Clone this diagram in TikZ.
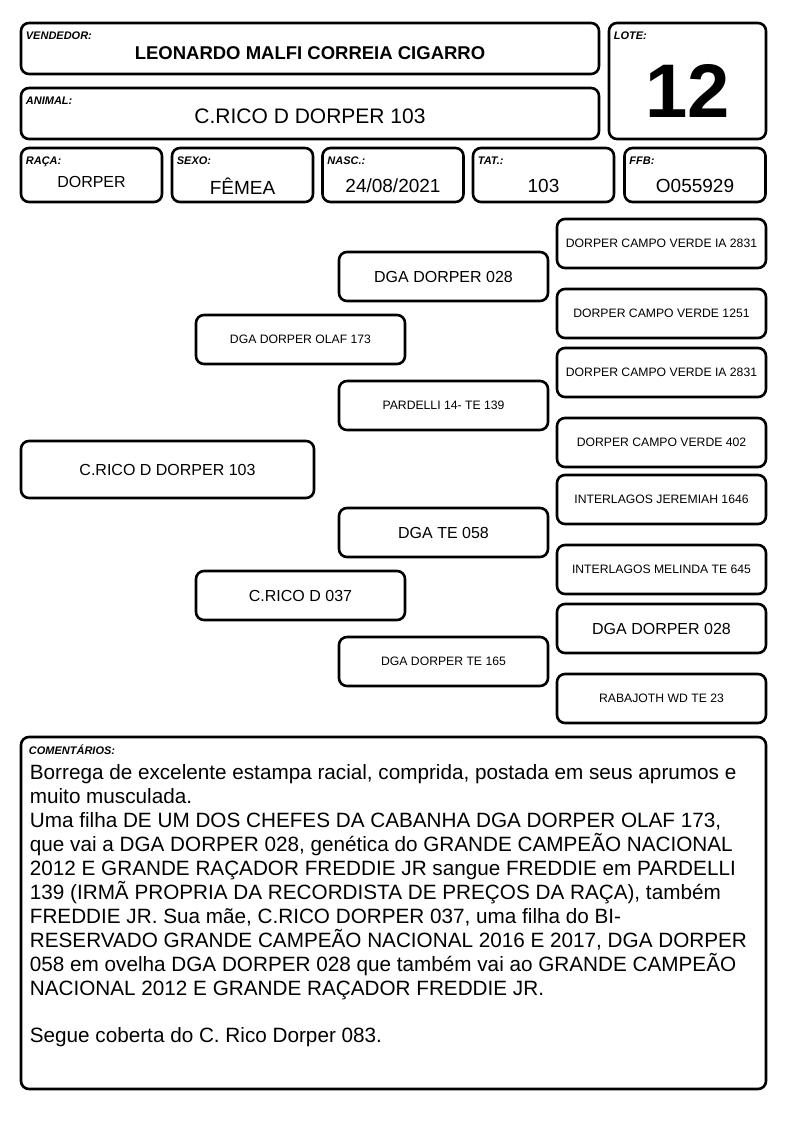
\documentclass[tikz,border=0pt]{standalone}
\usepackage{fontspec}
\setmainfont{Liberation Sans}
\usepackage{tikz}

\begin{document}
\begin{tikzpicture}[
    x=1pt, y=-1pt,
    box/.style={rectangle, rounded corners=8pt, draw=black, line width=2.6pt, inner sep=0pt},
    fieldbox/.style={box, minimum width=141pt, minimum height=54pt},
    pedbox/.style={box, minimum width=209pt, minimum height=49pt},
    fieldlabel/.style={font=\fontsize{11}{13}\selectfont\bfseries\itshape, anchor=north west, inner sep=0pt},
    fieldvalue/.style={font=\fontsize{19}{22}\selectfont, inner sep=0pt},
    smallname/.style={font=\fontsize{12.2}{15}\selectfont},
    bigname/.style={font=\fontsize{16}{19}\selectfont}
  ]
    \useasboundingbox (0,0) rectangle (794,1123);

    % Header
    \node[box, minimum width=578pt, minimum height=51pt] (vend) at (310,48.5) {};
    \node[fieldlabel] (vendlbl) at ([xshift=6pt,yshift=-10pt]vend.north west) {VENDEDOR:};
    \node[font=\fontsize{18.5}{22}\selectfont\bfseries] (vendval) at ([yshift=-4.5pt]vend.center) {LEONARDO MALFI CORREIA CIGARRO};

    \node[box, minimum width=578pt, minimum height=51pt] (animal) at (310,113.5) {};
    \node[fieldlabel] (animallbl) at ([xshift=6pt,yshift=-10pt]animal.north west) {ANIMAL:};
    \node[font=\fontsize{21}{25}\selectfont] (animalval) at ([yshift=-2.5pt]animal.center) {C.RICO D DORPER 103};

    \node[box, minimum width=157pt, minimum height=116pt] (lote) at (687.5,81) {};
    \node[fieldlabel] (lotelbl) at ([xshift=6pt,yshift=-10pt]lote.north west) {LOTE:};
    \node[font=\fontsize{76}{80}\selectfont\bfseries, inner sep=0pt] (loteval) at ([yshift=-10pt]lote.center) {12};

    % Data row
    \node[fieldbox] (raca) at (91.5,175) {};
    \node[fieldbox] (sexo) at (242.5,175) {};
    \node[fieldbox] (nasc) at (393,175) {};
    \node[fieldbox] (tat) at (543.5,175) {};
    \node[fieldbox] (ffb) at (695,175) {};
    \node[fieldlabel] (racalbl) at ([xshift=6pt,yshift=-10pt]raca.north west) {RAÇA:};
    \node[fieldlabel] (sexolbl) at ([xshift=6pt,yshift=-10pt]sexo.north west) {SEXO:};
    \node[fieldlabel] (nasclbl) at ([xshift=6pt,yshift=-10pt]nasc.north west) {NASC.:};
    \node[fieldlabel] (tatlbl) at ([xshift=6pt,yshift=-10pt]tat.north west) {TAT.:};
    \node[fieldlabel] (ffblbl) at ([xshift=6pt,yshift=-10pt]ffb.north west) {FFB:};
    \node[fieldvalue, font=\fontsize{16}{19}\selectfont] (racaval) at ([yshift=-7pt]raca.center) {DORPER};
    \node[fieldvalue] (sexoval) at ([yshift=-11pt]sexo.center) {FÊMEA};
    \node[fieldvalue] (nascval) at ([yshift=-11pt]nasc.center) {24/08/2021};
    \node[fieldvalue] (tatval) at ([yshift=-11pt]tat.center) {103};
    \node[fieldvalue] (ffbval) at ([yshift=-11pt]ffb.center) {O055929};

    % Pedigree: animal
    \node[box, minimum width=293pt, minimum height=57pt, bigname] (ped0) at (167.5,469.5) {C.RICO D DORPER 103};

    % Parents
    \node[pedbox, smallname] (sire) at (300.5,339.5) {DGA DORPER OLAF 173};
    \node[pedbox, bigname] (dam) at (300.5,595.5) {C.RICO D 037};

    % Grandparents
    \node[pedbox, bigname] (ss) at (443.5,276.5) {DGA DORPER 028};
    \node[pedbox, smallname] (sd) at (443.5,405.5) {PARDELLI 14- TE 139};
    \node[pedbox, bigname] (ds) at (443.5,532.5) {DGA TE 058};
    \node[pedbox, smallname] (dd) at (443.5,661.5) {DGA DORPER TE 165};

    % Great-grandparents
    \node[pedbox, smallname] (sss) at (661.5,243.5) {DORPER CAMPO VERDE IA 2831};
    \node[pedbox, smallname] (ssd) at (661.5,313.5) {DORPER CAMPO VERDE 1251};
    \node[pedbox, smallname] (sds) at (661.5,372.5) {DORPER CAMPO VERDE IA 2831};
    \node[pedbox, smallname] (sdd) at (661.5,442.5) {DORPER CAMPO VERDE 402};
    \node[pedbox, smallname] (dss) at (661.5,499.5) {INTERLAGOS JEREMIAH 1646};
    \node[pedbox, smallname] (dsd) at (661.5,569.5) {INTERLAGOS MELINDA TE 645};
    \node[pedbox, bigname] (dds) at (661.5,628.5) {DGA DORPER 028};
    \node[pedbox, smallname] (ddd) at (661.5,698.5) {RABAJOTH WD TE 23};

    % Comments
    \node[box, minimum width=745pt, minimum height=352pt] (coment) at (393.5,913) {};
    \node[fieldlabel] (comentlbl) at ([xshift=9pt,yshift=-9pt]coment.north west) {COMENTÁRIOS:};
    \node[anchor=north west, inner sep=0pt, align=left, font=\fontsize{20.7}{23.9}\selectfont] (comenttxt) at ([xshift=10pt,yshift=-29pt]coment.north west) {%
      Borrega de excelente estampa racial, comprida, postada em seus aprumos e\\
      muito musculada.\\
      Uma filha DE UM DOS CHEFES DA CABANHA DGA DORPER OLAF 173,\\
      que vai a DGA DORPER 028, genética do GRANDE CAMPEÃO NACIONAL\\
      2012 E GRANDE RAÇADOR FREDDIE JR sangue FREDDIE em PARDELLI\\
      139 (IRMÃ PROPRIA DA RECORDISTA DE PREÇOS DA RAÇA), também\\
      FREDDIE JR. Sua mãe, C.RICO DORPER 037, uma filha do BI-\\
      RESERVADO GRANDE CAMPEÃO NACIONAL 2016 E 2017, DGA DORPER\\
      058 em ovelha DGA DORPER 028 que também vai ao GRANDE CAMPEÃO\\
      NACIONAL 2012 E GRANDE RAÇADOR FREDDIE JR.\\[23.9pt]
      Segue coberta do C. Rico Dorper 083.};
  \end{tikzpicture}
\end{document}
